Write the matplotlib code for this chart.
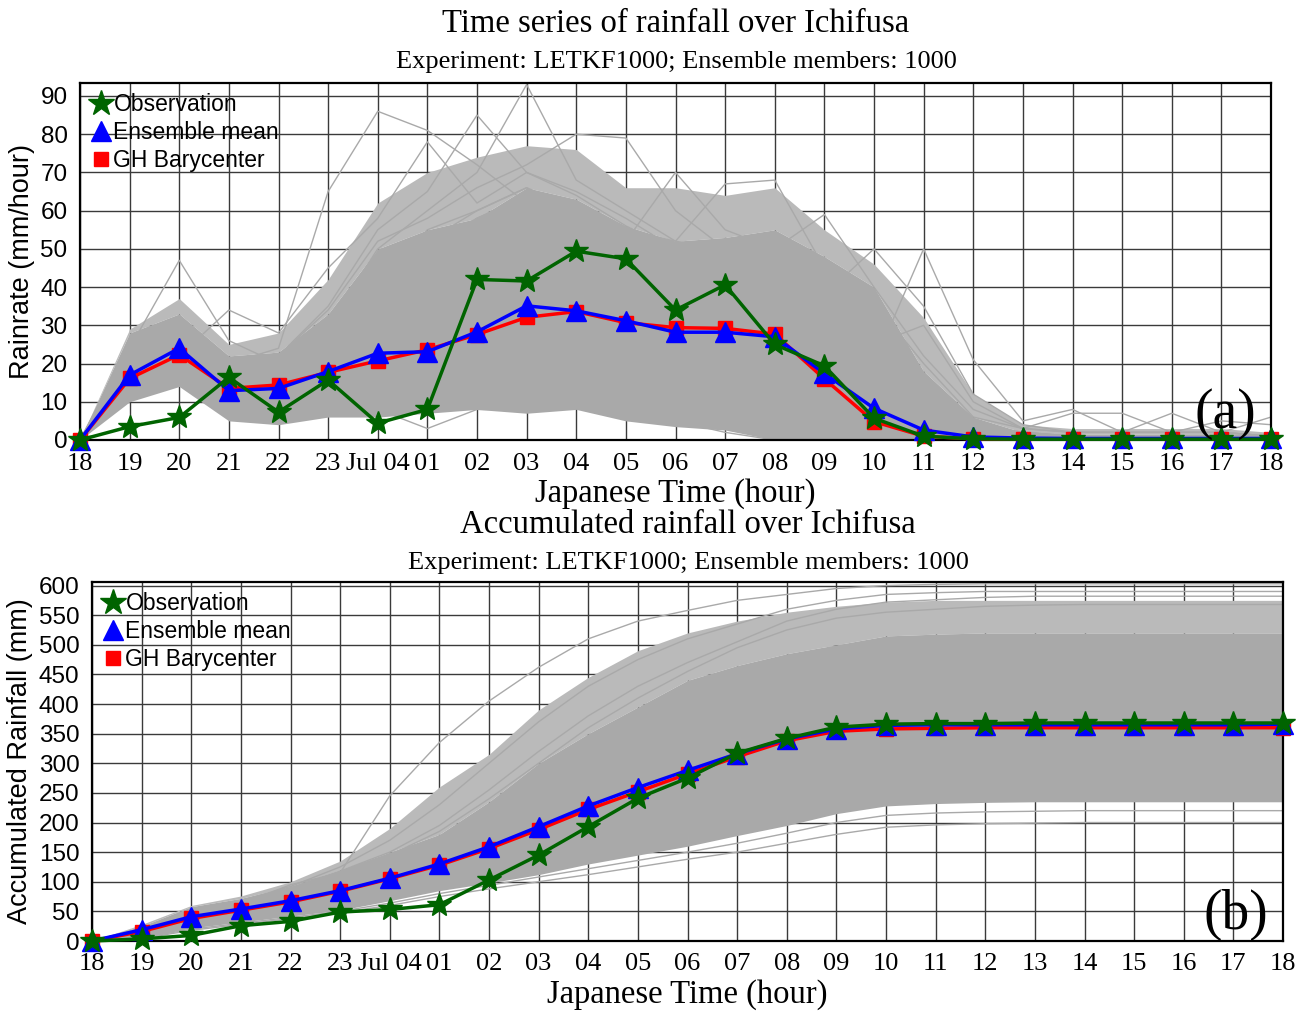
import numpy as np
import matplotlib
matplotlib.use("Agg")
import matplotlib.pyplot as plt
from matplotlib.lines import Line2D

# hours from 18 JST (Jul 03) to 18 JST (Jul 04)
hour_labels = ["18", "19", "20", "21", "22", "23", "Jul 04", "01", "02", "03", "04", "05",
               "06", "07", "08", "09", "10", "11", "12", "13", "14", "15", "16", "17", "18"]

# ---- panel (a): hourly rain rate (mm/hour)
obs_rate = [0, 3.5, 5.9, 16.4, 7.3, 15.7, 4.4, 8.0, 42.0, 41.6, 49.4, 47.4, 34.0, 40.6,
            25.0, 19.4, 5.7, 1.0, 0.3, 0.2, 0.2, 0.2, 0.2, 0.2, 0.2]
mean_rate = [0, 17.0, 24.0, 12.9, 13.5, 17.9, 22.7, 23.1, 28.3, 35.1, 33.8, 31.2, 28.2, 28.2,
             27.0, 17.4, 8.3, 2.6, 0.8, 0.5, 0.4, 0.4, 0.4, 0.4, 0.4]
bary_rate = [0, 16.1, 22.3, 13.5, 14.4, 17.7, 20.7, 23.6, 27.6, 32.1, 33.6, 30.7, 29.4, 29.2,
             27.7, 16.0, 4.8, 1.0, 0.3, 0.2, 0.2, 0.2, 0.2, 0.2, 0.2]

# ensemble spread: solid core and thinner outer zone
rate_core_lo = [0, 10, 14, 5, 4, 6, 6, 7, 8, 7, 8, 5, 3.5, 2.6, 0, 0, 0, 0, 0, 0, 0, 0, 0, 0, 0]
rate_core_hi = [0, 28, 33, 22, 23, 33, 50, 55, 58, 66, 63, 56, 52, 53, 55, 48, 40, 18, 6, 2, 1.5, 1.5, 1.5, 1.2, 1]
rate_outer_hi = [0, 29, 37, 25, 28, 42, 62, 70, 74, 77, 76, 66, 66, 64, 66, 55, 46, 32, 12, 4, 3, 3, 3, 3, 2]

# a few stray members that stick out of the cloud
rate_members = [
    [0, 25, 30, 20, 24, 65, 86, 81, 72, 62, 58, 50, 45, 40, 35, 28, 18, 6, 2, 1, 1, 1, 0.5, 0.5, 0.5],
    [0, 24, 47, 26, 20, 28, 40, 55, 60, 66, 60, 55, 48, 42, 40, 32, 24, 8, 3, 1, 1, 1, 1, 1, 1],
    [0, 22, 22, 34, 28, 45, 58, 78, 62, 70, 65, 58, 50, 44, 46, 38, 30, 10, 3, 2, 1, 1, 1, 1, 1],
    [0, 20, 30, 20, 22, 35, 55, 65, 85, 70, 64, 56, 50, 48, 44, 36, 28, 9, 3, 1, 1, 1, 1, 1, 1],
    [0, 18, 28, 18, 20, 30, 50, 60, 70, 93, 68, 60, 52, 50, 46, 38, 30, 12, 4, 2, 1, 1, 1, 1, 1],
    [0, 20, 30, 20, 22, 34, 52, 58, 66, 72, 80, 79, 60, 50, 48, 40, 32, 14, 4, 2, 1, 1, 1, 1, 1],
    [0, 20, 28, 20, 20, 30, 46, 52, 60, 66, 60, 52, 70, 55, 50, 42, 30, 12, 4, 2, 1, 1, 1, 1, 1],
    [0, 20, 28, 18, 20, 30, 45, 50, 58, 64, 62, 55, 52, 67, 68, 45, 36, 20, 6, 3, 2, 2, 2, 2, 1],
    [0, 20, 28, 18, 20, 30, 45, 50, 58, 64, 60, 52, 50, 52, 50, 59, 40, 22, 8, 3, 2, 2, 2, 2, 1],
    [0, 20, 28, 18, 20, 30, 45, 50, 58, 62, 58, 50, 48, 50, 48, 38, 50, 35, 12, 4, 2, 2, 2, 2, 1],
    [0, 20, 28, 18, 20, 30, 45, 50, 56, 60, 56, 50, 46, 48, 44, 36, 20, 50, 21, 5, 8, 2, 7, 2, 6],
    [0, 18, 26, 16, 18, 28, 40, 46, 50, 55, 52, 46, 44, 45, 40, 30, 25, 30, 10, 3, 7, 7, 2, 5, 4],
    [0, 12, 16, 8, 6, 8, 8, 3, 8, 8, 9, 7, 5, 2, 0, 0, 0, 0, 0, 0, 0, 0, 0, 0, 0],
]

# ---- panel (b): accumulated rainfall (mm)
obs_acc = [0, 3.5, 9.4, 25.8, 33.1, 48.8, 53.2, 61.2, 103, 145, 193, 241, 275, 317,
           342, 361, 366, 367, 367, 368, 368, 368, 368, 368, 368]
mean_acc = [0, 19, 41, 54, 68, 85, 106, 130, 159, 193, 228, 259, 288, 316,
            341, 358, 364, 365, 365, 365, 365, 365, 365, 365, 366]
bary_acc = [0, 16, 38, 52, 66, 84, 105, 128, 156, 188, 222, 252, 282, 311,
            338, 354, 358, 359, 360, 360, 360, 360, 360, 360, 360]

acc_core_lo = [0, 5, 22, 32, 42, 52, 68, 85, 98, 112, 130, 145, 160, 178,
               195, 215, 228, 232, 234, 235, 235, 235, 235, 235, 235]
acc_core_hi = [0, 25, 58, 72, 92, 120, 150, 180, 235, 300, 350, 395, 440, 465,
               485, 500, 515, 518, 520, 520, 520, 520, 520, 520, 520]
acc_outer_hi = [0, 28, 60, 76, 100, 135, 190, 260, 315, 390, 445, 490, 520, 540,
                555, 565, 572, 575, 575, 575, 575, 575, 575, 575, 575]

acc_members = [
    [0, 20, 45, 62, 95, 115, 245, 335, 405, 462, 510, 540, 558, 575, 585, 595, 600, 602, 603, 603, 603, 603, 603, 603, 603],
    [0, 22, 50, 68, 92, 125, 170, 230, 300, 370, 430, 475, 510, 535, 560, 575, 585, 588, 590, 590, 590, 590, 590, 590, 590],
    [0, 20, 48, 66, 90, 118, 150, 195, 255, 320, 380, 430, 470, 505, 540, 560, 572, 576, 580, 582, 582, 582, 582, 582, 582],
    [0, 20, 46, 64, 86, 112, 145, 185, 240, 300, 360, 410, 455, 495, 525, 545, 555, 560, 565, 567, 568, 568, 568, 568, 568],
    [0, 4, 18, 28, 38, 48, 60, 75, 88, 100, 112, 125, 138, 150, 165, 180, 192, 196, 198, 199, 200, 200, 200, 200, 200],
    [0, 5, 20, 30, 40, 50, 64, 80, 94, 108, 122, 136, 150, 165, 182, 200, 212, 216, 218, 219, 220, 220, 220, 220, 220],
]

grey = "#a9a9a9"
x = np.arange(len(hour_labels))

fig = plt.figure(figsize=(13.09, 10.14), dpi=100)
W, H = 1309, 1014


def fx(px):
    return px / W


def fy(py):
    return 1 - py / H


def setup(ax, ymax, ystep, ylabel):
    ax.set_xlim(0, len(x) - 1)
    ax.set_ylim(0, ymax)
    ax.set_xticks(x)
    ax.set_xticklabels(hour_labels, family="Liberation Serif", fontsize=19)
    ax.set_yticks(np.arange(0, ymax, ystep))
    for t in ax.get_yticklabels():
        t.set_family("Liberation Sans")
        t.set_fontsize(17.5)
    ax.tick_params(axis="x", length=0, pad=9)
    ax.tick_params(axis="y", length=0, pad=9)
    ax.grid(True, color="#3a3a3a", linewidth=1)
    ax.set_axisbelow(True)
    for s in ax.spines.values():
        s.set_linewidth(1.6)
    ax.set_ylabel(ylabel, family="Liberation Sans", fontsize=19.5, labelpad=4)
    ax.set_xlabel("Japanese Time (hour)", family="Liberation Serif", fontsize=23.5, labelpad=3)


def draw(ax, lo, hi, outer, members, obs, mean, bary):
    ax.fill_between(x, hi, outer, color="#bababa", linewidth=0, zorder=1)
    ax.fill_between(x, lo, hi, color=grey, linewidth=0, zorder=1.5)
    for m in members:
        ax.plot(x, m, color=grey, linewidth=1, zorder=1.6)
    ax.plot(x, bary, color="red", linewidth=2.5, marker="s", markersize=10, zorder=3, clip_on=False)
    ax.plot(x, mean, color="blue", linewidth=2.5, marker="^", markersize=14, zorder=4, clip_on=False)
    ax.plot(x, obs, color="#006400", linewidth=2.5, marker="*", markersize=18, zorder=5, clip_on=False)
    handles = [
        Line2D([], [], linestyle="none", marker="*", color="#006400", markersize=19),
        Line2D([], [], linestyle="none", marker="^", color="blue", markersize=14),
        Line2D([], [], linestyle="none", marker="s", color="red", markersize=10),
    ]
    ax.legend(handles, ["Observation", "Ensemble mean", "GH Barycenter"], loc="upper left",
              bbox_to_anchor=(0.004, 0.985), frameon=False,
              prop={"family": "Liberation Sans", "size": 16.5},
              handlelength=1.0, handletextpad=0.05, labelspacing=0.22,
              borderaxespad=0.1, borderpad=0.1)


# panel (a)
ax1 = fig.add_axes([fx(80), fy(440), fx(1271 - 80), (440 - 83) / H])
draw(ax1, rate_core_lo, rate_core_hi, rate_outer_hi, rate_members, obs_rate, mean_rate, bary_rate)
setup(ax1, 93.4, 10, "Rainrate (mm/hour)")
ax1.text(0.988, 0.0, "(a)", transform=ax1.transAxes, ha="right", va="bottom",
         family="Liberation Serif", fontsize=40, zorder=6)
fig.text(fx(676), fy(24), "Time series of rainfall over Ichifusa", ha="center", va="center",
         family="Liberation Serif", fontsize=23.5)
fig.text(fx(676), fy(62), "Experiment: LETKF1000; Ensemble members: 1000", ha="center", va="center",
         family="Liberation Serif", fontsize=19)

# panel (b)
ax2 = fig.add_axes([fx(92), fy(941), fx(1283 - 92), (941 - 582) / H])
draw(ax2, acc_core_lo, acc_core_hi, acc_outer_hi, acc_members, obs_acc, mean_acc, bary_acc)
setup(ax2, 606, 50, "Accumulated Rainfall (mm)")
ax2.text(0.988, 0.0, "(b)", transform=ax2.transAxes, ha="right", va="bottom",
         family="Liberation Serif", fontsize=40, zorder=6)
fig.text(fx(688), fy(525), "Accumulated rainfall over Ichifusa", ha="center", va="center",
         family="Liberation Serif", fontsize=23.5)
fig.text(fx(688), fy(563), "Experiment: LETKF1000; Ensemble members: 1000", ha="center", va="center",
         family="Liberation Serif", fontsize=19)

fig.savefig("out.png", dpi=100)
